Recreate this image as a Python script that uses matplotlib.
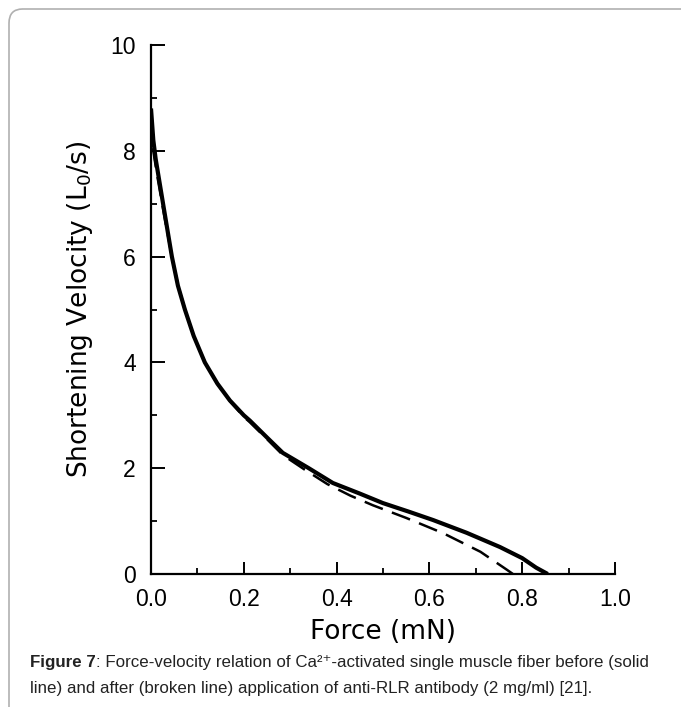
import matplotlib
matplotlib.use("Agg")
import matplotlib.pyplot as plt
from matplotlib.patches import FancyBboxPatch
from matplotlib.ticker import MultipleLocator

plt.rcParams['font.family'] = ['Liberation Sans', 'DejaVu Sans']
plt.rcParams['mathtext.fontset'] = 'dejavusans'
plt.rcParams['lines.scale_dashes'] = False

# Force-velocity curves
force_before = [0.0, 0.005, 0.01, 0.026, 0.045, 0.058, 0.073, 0.092, 0.116, 0.143,
                0.17, 0.2, 0.213, 0.25, 0.284, 0.34, 0.392, 0.45, 0.5, 0.555,
                0.608, 0.68, 0.752, 0.80, 0.83, 0.855]
velocity_before = [8.8, 8.2, 7.85, 7.0, 6.0, 5.45, 5.0, 4.5, 4.0, 3.6,
                   3.28, 3.0, 2.9, 2.58, 2.29, 2.0, 1.72, 1.52, 1.34, 1.18,
                   1.02, 0.78, 0.51, 0.3, 0.12, 0.0]

force_after = [0.0, 0.005, 0.012, 0.028, 0.047, 0.06, 0.075, 0.094, 0.118, 0.145,
               0.172, 0.2, 0.213, 0.25, 0.284, 0.33, 0.38, 0.43, 0.478, 0.55,
               0.63, 0.71, 0.767, 0.78]
velocity_after = [8.6, 8.0, 7.6, 6.8, 5.9, 5.4, 4.95, 4.45, 3.97, 3.57,
                  3.25, 2.97, 2.87, 2.55, 2.25, 1.98, 1.7, 1.48, 1.30, 1.06,
                  0.77, 0.42, 0.08, 0.0]

x_ticks = [0.0, 0.2, 0.4, 0.6, 0.8, 1.0]
x_labels = ['0.0', '0.2', '0.4', '0.6', '0.8', '1.0']
y_ticks = [0, 2, 4, 6, 8, 10]

fig = plt.figure(figsize=(6.81, 7.07), dpi=100)

# gray frame around the figure (cut off on the right and bottom)
frame = FancyBboxPatch((9 / 681, -0.05), 1.2, (698 / 707) + 0.05,
                       boxstyle="round,pad=0,rounding_size=0.02",
                       transform=fig.transFigure, fill=False,
                       edgecolor='#b0b0b0', linewidth=1.2)
fig.patches.append(frame)

ax = fig.add_axes([151 / 681, 1 - 574 / 707, 464 / 681, 529 / 707])
ax.plot(force_before, velocity_before, color='black', lw=3.0,
        solid_capstyle='butt', solid_joinstyle='round')
ax.plot(force_after, velocity_after, color='black', lw=1.8,
        dashes=(14, 7))

ax.set_xlim(0, 1.0)
ax.set_ylim(0, 10)
ax.set_xticks(x_ticks)
ax.set_xticklabels(x_labels)
ax.set_yticks(y_ticks)
ax.xaxis.set_minor_locator(MultipleLocator(0.1))
ax.yaxis.set_minor_locator(MultipleLocator(1))

for side in ['top', 'right']:
    ax.spines[side].set_visible(False)
for side in ['left', 'bottom']:
    ax.spines[side].set_linewidth(1.6)

ax.tick_params(which='major', direction='in', length=9, width=1.4,
               labelsize=16.5, pad=10)
ax.tick_params(which='minor', direction='in', length=4.5, width=1.3)
ax.tick_params(axis='y', which='major', length=10, pad=11)

ax.set_xlabel('Force (mN)', fontsize=19, family='DejaVu Sans', labelpad=6)
ax.set_ylabel(r'Shortening Velocity (L$_0$/s)', fontsize=19,
              family='DejaVu Sans', labelpad=11)

# caption
fig.text(30 / 681, 1 - 663 / 707, 'Figure 7', fontsize=12.2, weight='bold',
         color='#222222', va='center')
fig.canvas.draw()
bb = fig.texts[-1].get_window_extent()
fig.text(bb.x1 / 681, 1 - 663 / 707,
         ': Force-velocity relation of Ca²⁺-activated single muscle fiber before (solid',
         fontsize=12.2, color='#222222', va='center')
fig.text(30 / 681, 1 - 689 / 707,
         'line) and after (broken line) application of anti-RLR antibody (2 mg/ml) [21].',
         fontsize=12.2, color='#222222', va='center')

fig.savefig('out.png', dpi=100)
